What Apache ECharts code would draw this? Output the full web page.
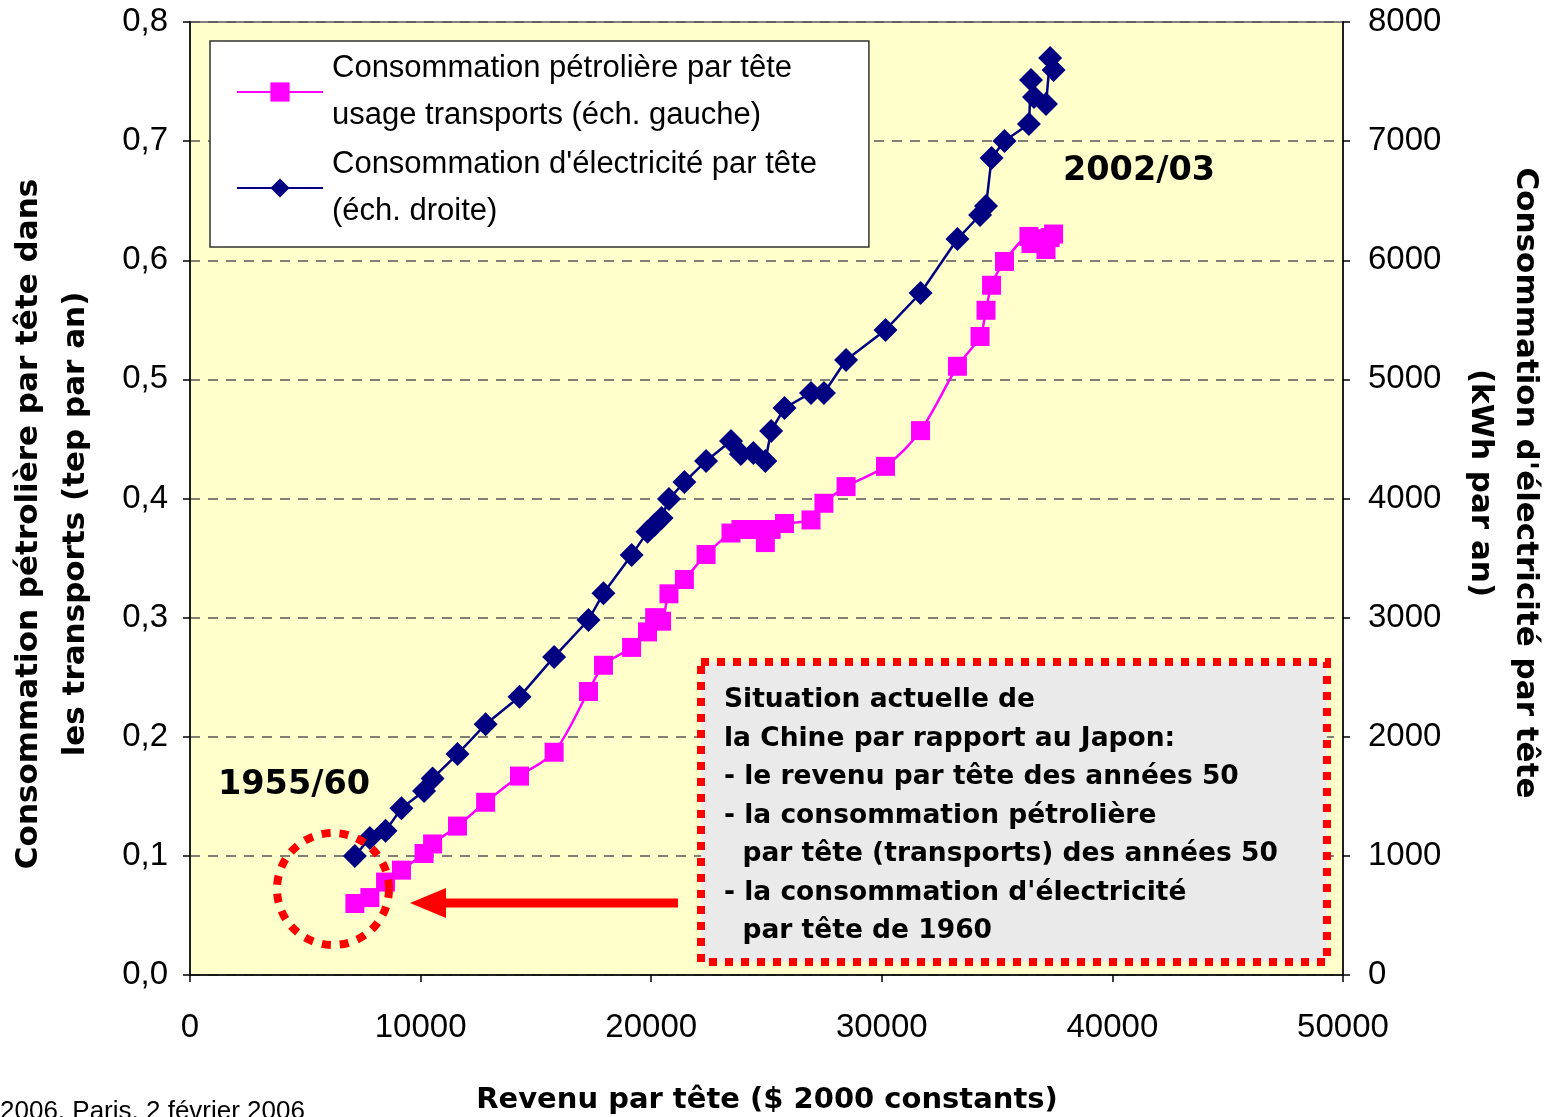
<!DOCTYPE html>
<html>
<head>
<meta charset="utf-8">
<script src="https://cdn.jsdelivr.net/npm/echarts@6/dist/echarts.min.js"></script>
<style>
	html, body { margin: 0; padding: 0; background: #fff; }
	#chart_container { width: 1553px; height: 1117px; }
</style>
</head>
<body>
<div id="chart_container"></div>
<script>
// revenu par tête ($ 2000 constants), une valeur par année
const revenu = [7150, 7800, 8480, 9170, 10150, 10520, 11600, 12820, 14290, 15790,
	17280, 17930, 19150, 19840, 20150, 20450, 20770, 21440, 22380, 23460,
	23890, 24430, 24950, 25200, 25780, 26930, 27490, 28450, 30160, 31680,
	33280, 34260, 34520, 34760, 35320, 36380, 36470, 36600, 37120, 37300, 37450]
// tep par an (échelle gauche)
const petrole = [0.060, 0.065, 0.078, 0.088, 0.102, 0.110, 0.125, 0.145, 0.167, 0.187,
	0.238, 0.260, 0.275, 0.288, 0.300, 0.297, 0.320, 0.332, 0.353, 0.371,
	0.374, 0.374, 0.363, 0.374, 0.379, 0.382, 0.396, 0.410, 0.427, 0.457,
	0.511, 0.536, 0.558, 0.579, 0.599, 0.620, 0.614, 0.618, 0.609, 0.619, 0.622]
// kWh par an (échelle droite)
const electricite = [1000, 1150, 1210, 1400, 1545, 1650, 1855, 2105, 2335, 2670,
	2980, 3205, 3525, 3720, 3780, 3836, 3996, 4138, 4315, 4483,
	4374, 4382, 4315, 4567, 4760, 4886, 4886, 5163, 5415, 5725,
	6178, 6380, 6455, 6858, 7001, 7143, 7513, 7370, 7311, 7698, 7597]

const nomPetrole = "Consommation pétrolière par tête\nusage transports (éch. gauche)"
const nomElec = "Consommation d'électricité par tête\n(éch. droite)"
const titreGauche = "Consommation pétrolière par tête dans\nles transports (tep par an)"
const titreDroite = "Consommation d'électricité par tête\n(kWh par an)"
const titreX = "Revenu par tête ($ 2000 constants)"
const encadre = [
	"Situation actuelle de",
	"la Chine par rapport au Japon:",
	"- le revenu par tête des années 50",
	"- la consommation pétrolière",
	"  par tête (transports) des années 50",
	"- la consommation d'électricité",
	"  par tête de 1960",
]

const font = "Liberation Sans, Arial, sans-serif"
const boldFont = "DejaVu Sans, Liberation Sans, sans-serif"
const gridLine = { show: true, lineStyle: { color: "#555", type: [10, 8], width: 1.5 } }
const axisLine = { show: true, lineStyle: { color: "#000", width: 1.5 } }
const axisTick = { show: true, length: 7, lineStyle: { color: "#000", width: 1.5 } }

const chart = echarts.init(document.querySelector("#chart_container"))
chart.setOption({
	animation: false,
	textStyle: { fontFamily: font },
	grid: {
		left: 190,
		right: 210,
		top: 22,
		bottom: 142,
		containLabel: false,
		outerBoundsMode: "none",
		show: true,
		backgroundColor: "#FFFFCC",
		borderColor: "#808080",
		borderWidth: 2,
	},
	legend: {
		left: 210,
		top: 41,
		orient: "vertical",
		backgroundColor: "#fff",
		borderColor: "#333",
		borderWidth: 1.5,
		padding: [4, 52, 12, 26],
		itemGap: 2,
		itemWidth: 86,
		itemHeight: 24,
		textStyle: { fontSize: 31, lineHeight: 47, color: "#000", fontFamily: font, padding: [0, 0, 0, 4] },
		data: [nomPetrole, nomElec],
	},
	xAxis: {
		type: "value",
		min: 0,
		max: 50000,
		interval: 10000,
		axisLine: axisLine,
		axisTick: axisTick,
		axisLabel: { fontSize: 33, color: "#000", margin: 36, formatter: (v) => String(v) },
		splitLine: { show: false },
	},
	yAxis: [
		{
			type: "value",
			min: 0,
			max: 0.8,
			interval: 0.1,
			position: "left",
			axisLine: axisLine,
			axisTick: axisTick,
			axisLabel: {
				fontSize: 33,
				color: "#000",
				margin: 22,
				formatter: (v) => v.toFixed(1).replace(".", ","),
			},
			splitLine: gridLine,
		},
		{
			type: "value",
			min: 0,
			max: 8000,
			interval: 1000,
			position: "right",
			axisLine: axisLine,
			axisTick: axisTick,
			axisLabel: { fontSize: 33, color: "#000", margin: 25, formatter: (v) => String(v) },
			splitLine: { show: false },
		},
	],
	series: [
		{
			name: nomPetrole,
			type: "line",
			yAxisIndex: 0,
			smooth: 0.3,
			symbol: "rect",
			symbolSize: 19,
			itemStyle: { color: "#FF00FF" },
			lineStyle: { color: "#FF00FF", width: 2.5 },
			data: revenu.map((x, i) => [x, petrole[i]]),
		},
		{
			name: nomElec,
			type: "line",
			yAxisIndex: 1,
			symbol: "diamond",
			symbolSize: 24,
			itemStyle: { color: "#000080" },
			lineStyle: { color: "#000080", width: 2.5 },
			data: revenu.map((x, i) => [x, electricite[i]]),
		},
	],
	graphic: [
		// titres des axes
		{
			type: "text",
			x: 52,
			y: 524,
			rotation: Math.PI / 2,
			style: {
				text: titreGauche,
				font: "bold 31px " + boldFont,
				lineHeight: 47,
				align: "center",
				verticalAlign: "middle",
				fill: "#000",
			},
		},
		{
			type: "text",
			x: 1503,
			y: 483,
			rotation: -Math.PI / 2,
			style: {
				text: titreDroite,
				font: "bold 31px " + boldFont,
				lineHeight: 45,
				align: "center",
				verticalAlign: "middle",
				fill: "#000",
			},
		},
		{
			type: "text",
			x: 767,
			y: 1100,
			style: {
				text: titreX,
				font: "bold 29px " + boldFont,
				align: "center",
				verticalAlign: "middle",
				fill: "#000",
			},
		},
		// annotations
		{
			type: "text",
			left: 218,
			top: 768,
			style: { text: "1955/60", font: "bold 33.5px " + boldFont, fill: "#000" },
		},
		{
			type: "text",
			left: 1063,
			top: 154,
			style: { text: "2002/03", font: "bold 33.5px " + boldFont, fill: "#000" },
		},
		{
			type: "circle",
			shape: { cx: 333, cy: 889, r: 56 },
			style: { fill: "none", stroke: "#FF0000", lineWidth: 8, lineDash: [9, 9] },
			z: 10,
		},
		{
			type: "line",
			shape: { x1: 678, y1: 903, x2: 440, y2: 903 },
			style: { stroke: "#FF0000", lineWidth: 9 },
			z: 10,
		},
		{
			type: "polygon",
			shape: { points: [[410, 903], [446, 888], [446, 918]] },
			style: { fill: "#FF0000" },
			z: 10,
		},
		{
			type: "rect",
			shape: { x: 701, y: 662, width: 626, height: 300 },
			style: { fill: "#EAEAEA", stroke: "#FF0000", lineWidth: 8, lineDash: [8, 8] },
			z: 10,
		},
		{
			type: "text",
			left: 724,
			top: 681,
			z: 11,
			style: {
				text: encadre.join("\n"),
				font: "bold 26.5px " + boldFont,
				lineHeight: 38.5,
				fill: "#000",
			},
		},
		{
			type: "text",
			left: 0,
			top: 1099,
			style: { text: "2006, Paris, 2 février 2006", font: "26px " + font, fill: "#000" },
		},
	],
})
</script>
</body>
</html>
